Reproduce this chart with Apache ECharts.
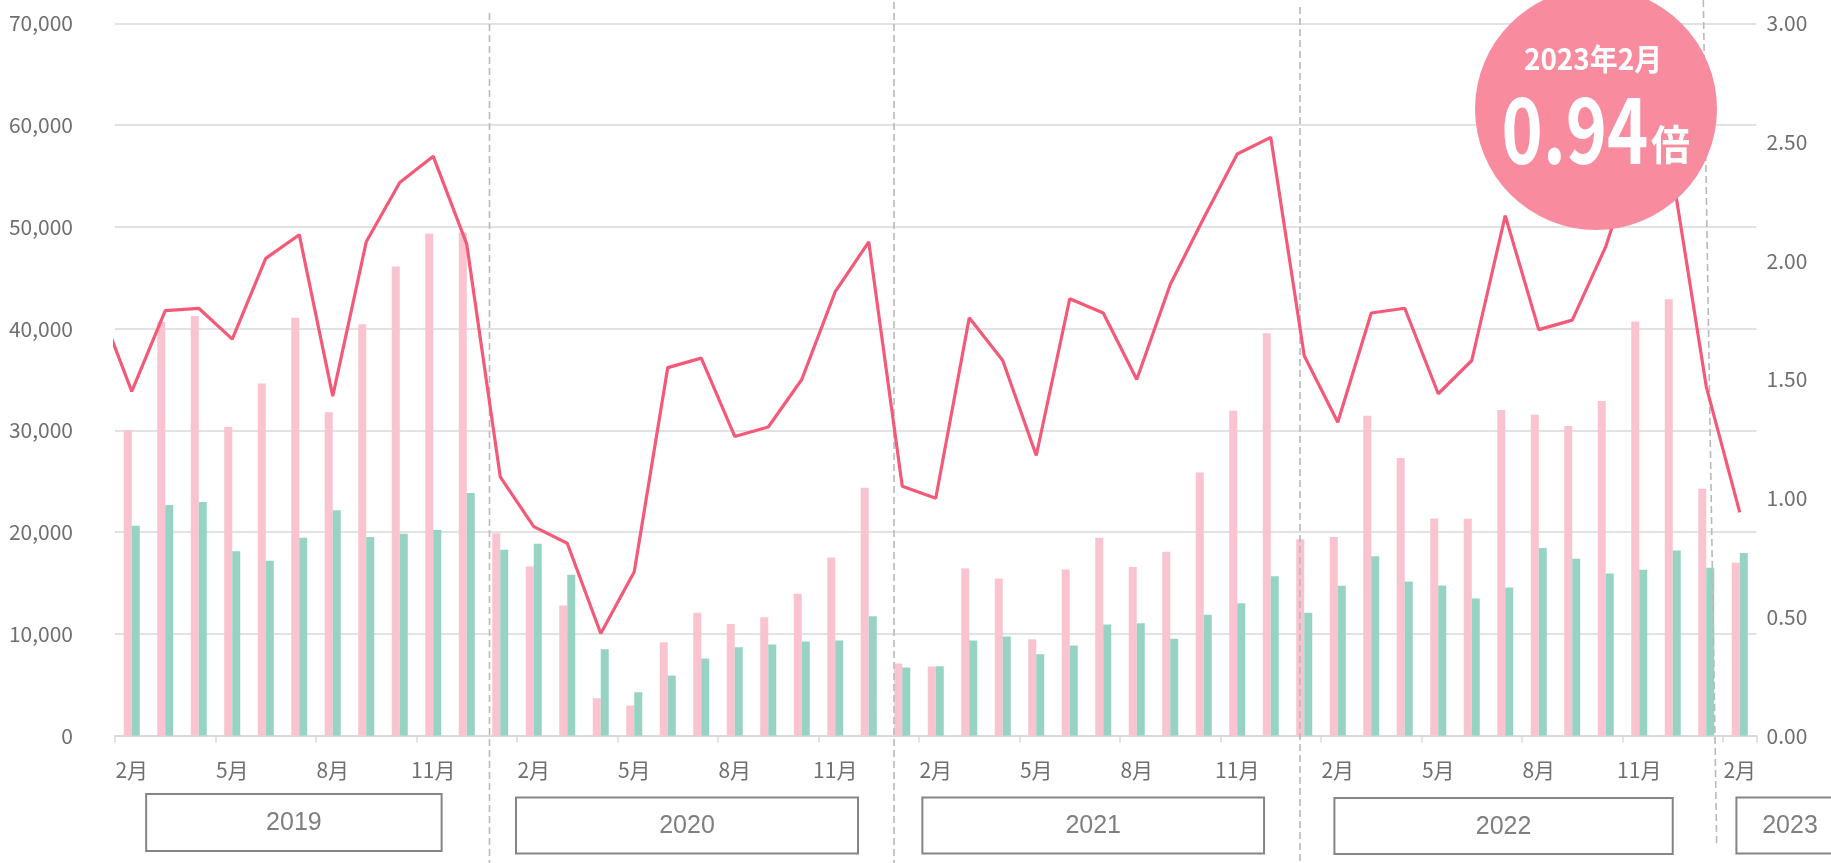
<!DOCTYPE html>
<html>
<head>
<meta charset="utf-8">
<script src="https://cdn.jsdelivr.net/npm/echarts@6/dist/echarts.min.js"></script>
<style>
html,body{margin:0;padding:0;background:#ffffff;}
#c{width:1831px;height:863px;}
</style>
</head>
<body>
<div id="c"></div>
<script>
// ---- data ----
const categories = [
  '2019年2月','2019年3月','2019年4月','2019年5月','2019年6月','2019年7月','2019年8月','2019年9月','2019年10月','2019年11月','2019年12月',
  '2020年1月','2020年2月','2020年3月','2020年4月','2020年5月','2020年6月','2020年7月','2020年8月','2020年9月','2020年10月','2020年11月','2020年12月',
  '2021年1月','2021年2月','2021年3月','2021年4月','2021年5月','2021年6月','2021年7月','2021年8月','2021年9月','2021年10月','2021年11月','2021年12月',
  '2022年1月','2022年2月','2022年3月','2022年4月','2022年5月','2022年6月','2022年7月','2022年8月','2022年9月','2022年10月','2022年11月','2022年12月',
  '2023年1月','2023年2月'
];
// pink bars (left axis)
const pinkValues = [
  30000, 40650, 41250, 30330, 34600, 41080, 31770, 40430, 46100, 49340, 49440,
  19900, 16620, 12790, 3670, 2950, 9180, 12070, 10980, 11640, 13930, 17510, 24360,
  7080, 6790, 16430, 15440, 9480, 16330, 19440, 16560, 18070, 25870, 31930, 39540,
  19310, 19510, 31440, 27280, 21340, 21310, 32000, 31540, 30430, 32890, 40690, 42890,
  24260, 16980
];
// green bars (left axis)
const greenValues = [
  20620, 22660, 22950, 18130, 17180, 19440, 22160, 19510, 19840, 20200, 23840,
  18260, 18850, 15800, 8490, 4260, 5900, 7570, 8690, 8950, 9250, 9340, 11740,
  6690, 6820, 9340, 9740, 8000, 8850, 10920, 11050, 9510, 11870, 13000, 15670,
  12070, 14720, 17640, 15150, 14750, 13480, 14560, 18430, 17380, 15930, 16300, 18200,
  16490, 17950
];
// ratio line (right axis); first value is 2019年1月, which lies just left of the plot and is clipped
const ratioMonths = ['2019年1月'].concat(categories);
const ratioValues = [
  1.82,
  1.45, 1.79, 1.80, 1.67, 2.01, 2.11, 1.43, 2.08, 2.33, 2.44, 2.07,
  1.09, 0.88, 0.81, 0.43, 0.69, 1.55, 1.59, 1.26, 1.30, 1.50, 1.87, 2.08,
  1.05, 1.00, 1.76, 1.58, 1.18, 1.84, 1.78, 1.50, 1.90, 2.18, 2.45, 2.52,
  1.60, 1.32, 1.78, 1.80, 1.44, 1.58, 2.19, 1.71, 1.75, 2.06, 2.49, 2.36,
  1.47, 0.94
];
const leftTicks = [0, 10000, 20000, 30000, 40000, 50000, 60000, 70000];
const rightTicks = [0, 0.5, 1, 1.5, 2, 2.5, 3];
const yearLabels = ['2019', '2020', '2021', '2022', '2023'];
const badgeMonth = '2023年2月';
const badgeValue = '0.94';
const badgeUnit = '倍';

// ---- layout / style ----
const axisGray = '#d9d9d9';
const labelGray = '#6f6f6f';
const labelFont = "'Noto Sans CJK JP', 'Noto Sans', sans-serif";

const chart = echarts.init(document.getElementById('c'), null, {renderer: 'canvas'});

const option = {
  animation: false,
  backgroundColor: '#ffffff',
  grid: {left: 115, right: 74.5, top: 23.4, bottom: 127.4, containLabel: false},
  xAxis: [
    {
      type: 'category',
      data: categories,
      boundaryGap: true,
      axisLine: {show: true, lineStyle: {color: axisGray, width: 2}},
      axisTick: {show: true, interval: 2, length: 7, lineStyle: {color: axisGray, width: 1.5}},
      axisLabel: {
        interval: 2, margin: 24, color: labelGray, fontSize: 21, fontFamily: labelFont,
        formatter: v => v.split('年')[1]
      },
      splitLine: {show: false}
    },
    {
      type: 'value', show: false, min: -0.5, max: categories.length - 0.5, position: 'top'
    }
  ],
  yAxis: [
    {
      type: 'value',
      min: leftTicks[0], max: leftTicks[leftTicks.length - 1], interval: leftTicks[1] - leftTicks[0],
      axisLine: {show: false}, axisTick: {show: false},
      axisLabel: {
        margin: 42, color: labelGray, fontSize: 21, fontFamily: labelFont,
        formatter: v => v.toLocaleString('en-US')
      },
      splitLine: {show: true, lineStyle: {color: axisGray, width: 1.5}}
    },
    {
      type: 'value', position: 'right',
      min: rightTicks[0], max: rightTicks[rightTicks.length - 1], interval: rightTicks[1] - rightTicks[0],
      axisLine: {show: false}, axisTick: {show: false},
      axisLabel: {
        margin: 10, color: labelGray, fontSize: 21, fontFamily: labelFont,
        formatter: v => v.toFixed(2)
      },
      splitLine: {show: false}
    }
  ],
  series: [
    {
      name: 'pink', type: 'bar', data: pinkValues, xAxisIndex: 0, yAxisIndex: 0,
      barWidth: 8, barGap: '0%', itemStyle: {color: '#f9c3cf'}, z: 2
    },
    {
      name: 'green', type: 'bar', data: greenValues, xAxisIndex: 0, yAxisIndex: 0,
      barWidth: 8, barGap: '0%', itemStyle: {color: '#97d3c3'}, z: 2
    },
    {
      name: 'ratio', type: 'line', xAxisIndex: 1, yAxisIndex: 1,
      data: ratioValues.map((v, i) => [i - 1, v]),
      symbol: 'none', clip: true, z: 10,
      lineStyle: {color: '#f45a78', width: 3.2}
    }
  ]
};
chart.setOption(option);

// ---- decorations placed from the axis scale ----
const c0 = chart.convertToPixel({xAxisIndex: 0}, categories[0]);
const c1 = chart.convertToPixel({xAxisIndex: 0}, categories[1]);
const cw = c1 - c0;
const edge = k => c0 - cw / 2 + k * cw;   // left boundary of category k

// year separators: [boundary category, px offset top, px offset bottom, y top, y bottom]
const separators = [
  [11, 6, 6, 13, 863],
  [23, 8.5, 8.5, 2, 863],
  [35, 12.5, 12.5, 7, 863],
  [47, 13.8, 27.2, 0, 845]
];
// year boxes: [label index, start pos, end pos (in category units), top, bottom]
const yearBoxes = [
  [0, 0.93, 9.75, 794, 851],
  [1, 11.97, 22.18, 797.5, 853.5],
  [2, 24.1, 34.3, 797.5, 853.5],
  [3, 36.4, 46.5, 798, 854],
  [4, 48.4, 51.6, 797.5, 853.5]
];

const elements = [];
separators.forEach(s => {
  elements.push({
    type: 'line', z: 5, silent: true,
    shape: {x1: edge(s[0]) + s[1], y1: s[3], x2: edge(s[0]) + s[2], y2: s[4]},
    style: {stroke: '#b9b9b9', lineWidth: 1.6, lineDash: [7, 4]}
  });
});
yearBoxes.forEach(b => {
  const x1 = edge(b[1]), x2 = edge(b[2]);
  elements.push({
    type: 'rect', z: 6, silent: true,
    shape: {x: x1, y: b[3], width: x2 - x1, height: b[4] - b[3]},
    style: {fill: '#ffffff', stroke: '#858585', lineWidth: 2}
  });
  elements.push({
    type: 'text', z: 7, silent: true,
    x: (x1 + x2) / 2, y: (b[3] + b[4]) / 2 + 1,
    style: {
      text: yearLabels[b[0]], fill: '#7f7f7f', fontSize: 25,
      fontFamily: "'Liberation Sans', Arial, sans-serif",
      align: 'center', verticalAlign: 'middle', textAlign: 'center', textVerticalAlign: 'middle'
    }
  });
});

// badge circle
const bx = 1596, by = 109;
elements.push({
  type: 'circle', z: 20, silent: true,
  shape: {cx: bx, cy: by, r: 121},
  style: {fill: '#f88c9e'}
});
elements.push({
  type: 'text', z: 21, silent: true,
  x: bx - 3, y: 59, scaleX: 0.93,
  style: {
    text: badgeMonth, fill: '#ffffff', fontSize: 30, fontWeight: 'bold', fontFamily: labelFont,
    align: 'center', verticalAlign: 'middle', textAlign: 'center', textVerticalAlign: 'middle'
  }
});
elements.push({
  type: 'text', z: 21, silent: true,
  x: 1575, y: 129, scaleX: 0.77,
  style: {
    text: badgeValue, fill: '#ffffff', fontSize: 91, fontWeight: 'bold', fontFamily: labelFont,
    align: 'center', verticalAlign: 'middle', textAlign: 'center', textVerticalAlign: 'middle'
  }
});
elements.push({
  type: 'text', z: 21, silent: true,
  x: 1670.5, y: 144, scaleX: 0.95,
  style: {
    text: badgeUnit, fill: '#ffffff', fontSize: 41, fontWeight: 'bold', fontFamily: labelFont,
    align: 'center', verticalAlign: 'middle', textAlign: 'center', textVerticalAlign: 'middle'
  }
});

chart.setOption({graphic: {elements: elements}});
</script>
</body>
</html>
